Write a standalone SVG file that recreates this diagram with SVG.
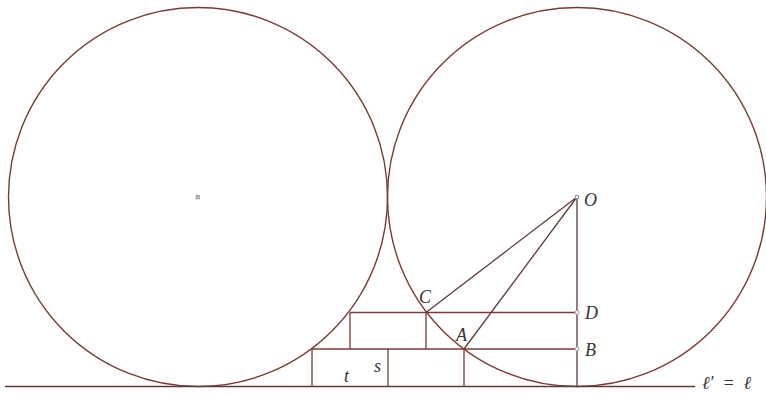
<svg xmlns="http://www.w3.org/2000/svg" width="766" height="394" viewBox="0 0 766 394">
<style>
.circ{fill:none;stroke:#7a3a34;stroke-width:1.4}
.ln{fill:none;stroke:#5e3a36;stroke-width:1.3}
.rect{fill:none;stroke:#7a3a34;stroke-width:1.3}
.lbl{font-family:"Liberation Serif",serif;font-style:italic;font-size:18px;fill:#333}
.pt{fill:#fff;stroke:#999;stroke-width:1}
</style>
<rect width="766" height="394" fill="#fff"/>
<g id="left-circle">
<circle class="circ" cx="198" cy="197" r="189.5"/>
<rect x="196" y="195.5" width="3.5" height="3.5" fill="#bbb" stroke="#888" stroke-width="0.6"/>
</g>
<g id="right-circle">
<circle class="circ" cx="577" cy="197" r="189.5"/>
</g>
<g id="connectors">
<line class="ln" x1="5" y1="386.5" x2="695" y2="386.5"/>
<line class="ln" x1="577" y1="197" x2="426" y2="312.5"/>
<line class="ln" x1="577" y1="197" x2="464" y2="349"/>
<line class="ln" x1="577" y1="197" x2="577" y2="386.5"/>
<line class="rect" x1="350" y1="312.5" x2="577" y2="312.5"/>
<line class="rect" x1="312" y1="349" x2="577" y2="349"/>
<line class="rect" x1="350" y1="312.5" x2="350" y2="349"/>
<line class="rect" x1="426" y1="312.5" x2="426" y2="349"/>
<line class="rect" x1="312" y1="349" x2="312" y2="386.5"/>
<line class="rect" x1="388" y1="349" x2="388" y2="386.5"/>
<line class="rect" x1="464" y1="349" x2="464" y2="386.5"/>
</g>
<g id="O">
<rect x="575.5" y="195.5" width="3" height="3" class="pt"/>
<text class="lbl" x="584" y="206">O</text>
</g>
<g id="C">
<text class="lbl" x="419" y="303">C</text>
</g>
<g id="A">
<text class="lbl" x="456" y="341">A</text>
</g>
<g id="D">
<circle cx="577" cy="312.5" r="2" class="pt"/>
<text class="lbl" x="585" y="319">D</text>
</g>
<g id="B">
<circle cx="577" cy="349" r="2" class="pt"/>
<text class="lbl" x="585" y="356">B</text>
</g>
<g id="t"><text class="lbl" x="344" y="382">t</text></g>
<g id="s"><text class="lbl" x="374" y="372">s</text></g>
<g id="ell"><text class="lbl" x="702" y="389" xml:space="preserve">ℓ′  =  ℓ</text></g>
</svg>
